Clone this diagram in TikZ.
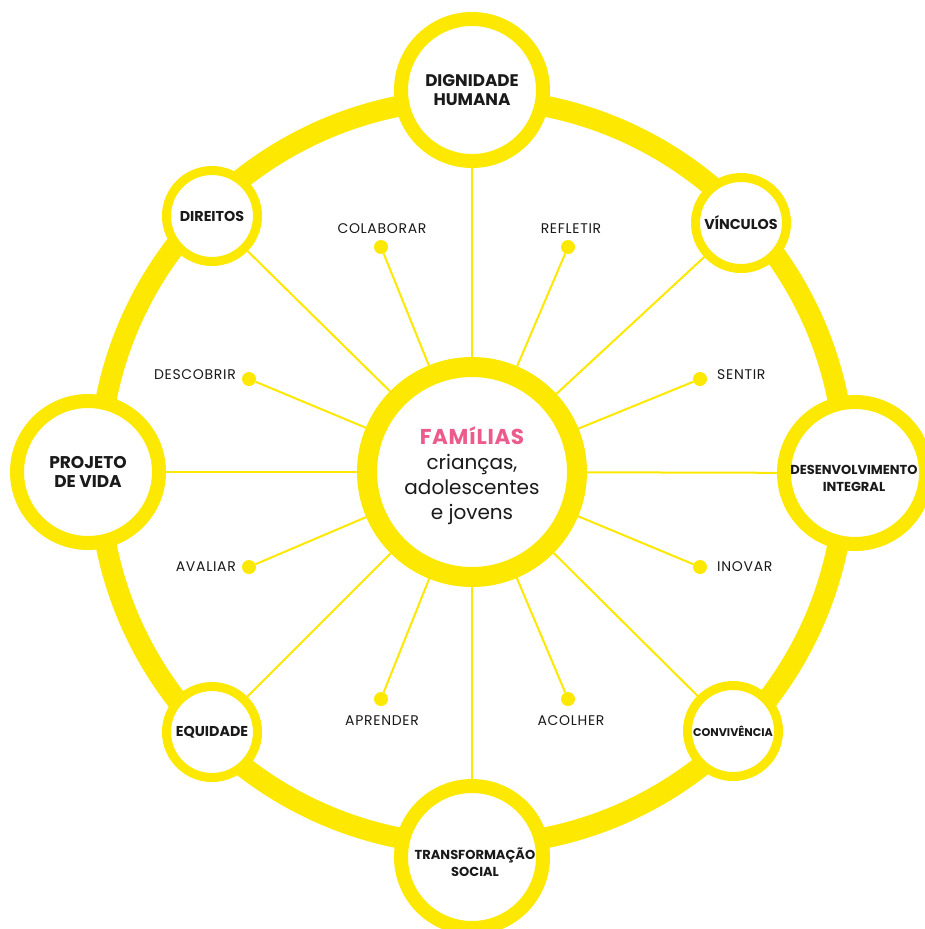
\documentclass[tikz,border=0pt]{standalone}
\usepackage{fontspec}
\setmainfont{Poppins}
\usetikzlibrary{backgrounds}
\definecolor{yel}{HTML}{FCE800}
\definecolor{pnk}{HTML}{EC5B8C}
\definecolor{ink}{HTML}{1A1A1A}
\begin{document}
\begin{tikzpicture}[x=1pt,y=-1pt,
  big/.style={circle,draw=yel,line width=14pt,fill=white,minimum size=142pt,inner sep=0pt,align=center,font=\bfseries\fontsize{16.8}{19}\selectfont,text=ink},
  bigtxt/.style={inner sep=0pt,align=center,font=\bfseries\fontsize{13}{17}\selectfont,text=ink},
  small/.style={circle,draw=yel,line width=9pt,fill=white,minimum size=91pt,inner sep=0pt,align=center,font=\bfseries\fontsize{14.3}{15}\selectfont,text=ink},
  dot/.style={circle,fill=yel,minimum size=14pt,inner sep=0pt},
  lbl/.style={font=\fontsize{14}{15}\selectfont\addfontfeatures{LetterSpace=5},text=ink,inner sep=0pt},
  spoke/.style={draw=yel,line width=2pt}]
\useasboundingbox (0,0) rectangle (924,929);
% centre
\node[circle,draw=yel,line width=20pt,fill=white,minimum size=210pt,inner sep=0pt] (c) at (472,472) {};
\node[align=center,inner sep=0pt,font=\fontsize{20}{25}\selectfont,text=ink] (ct) at (472,476)
  {{\bfseries\color{pnk}\fontsize{21.5}{25}\selectfont\addfontfeatures{LetterSpace=3}FAMíLIAS}\\crianças,\\adolescentes\\e jovens};
% outer big circles
\node[big] (dh) at (472,90) {DIGNIDADE\\HUMANA};
\node[big,font=\bfseries\fontsize{17}{19}\selectfont] (pv) at (88,472) {PROJETO\\DE VIDA};
\node[big] (de) at (855,473) {};
\node[bigtxt] (det) at (854,478) {DESENVOLVIMENTO\\INTEGRAL};
\node[big] (ts) at (472,857) {};
\node[bigtxt] (tst) at (475,862) {TRANSFORMAÇÃO\\SOCIAL};
% small circles
\node[small] (dr) at (212,216) {DIREITOS};
\node[small] (vi) at (741,223) {VÍNCULOS};
\node[small] (eq) at (212,732) {EQUIDADE};
\node[small,font=\bfseries\fontsize{11.2}{13}\selectfont] (cv) at (733,731) {CONVIVÊNCIA};
% dots
\node[dot] (d1) at (381,247) {};
\node[dot] (d2) at (568,247) {};
\node[dot] (d3) at (249,379) {};
\node[dot] (d4) at (700,379) {};
\node[dot] (d5) at (249,567) {};
\node[dot] (d6) at (700,567) {};
\node[dot] (d7) at (381,699) {};
\node[dot] (d8) at (568,699) {};
% labels
\node[lbl] (l1) at (382,229) {COLABORAR};
\node[lbl] (l2) at (571,229) {REFLETIR};
\node[lbl,anchor=east] (l3) at (236,375) {DESCOBRIR};
\node[lbl,anchor=west] (l4) at (717,375) {SENTIR};
\node[lbl,anchor=east] (l5) at (236,567) {AVALIAR};
\node[lbl,anchor=west] (l6) at (717,567) {INOVAR};
\node[lbl] (l7) at (382,721) {APRENDER};
\node[lbl] (l8) at (571,721) {ACOLHER};
\begin{scope}[on background layer]
  \fill[white] (0,0) rectangle (924,929);
  \draw[yel,line width=21pt] (472,472) circle[radius=373pt];
  \foreach \n in {dh,pv,de,ts,dr,vi,eq,cv,d1,d2,d3,d4,d5,d6,d7,d8}
    \draw[spoke] (c) -- (\n);
\end{scope}
\end{tikzpicture}
\end{document}
